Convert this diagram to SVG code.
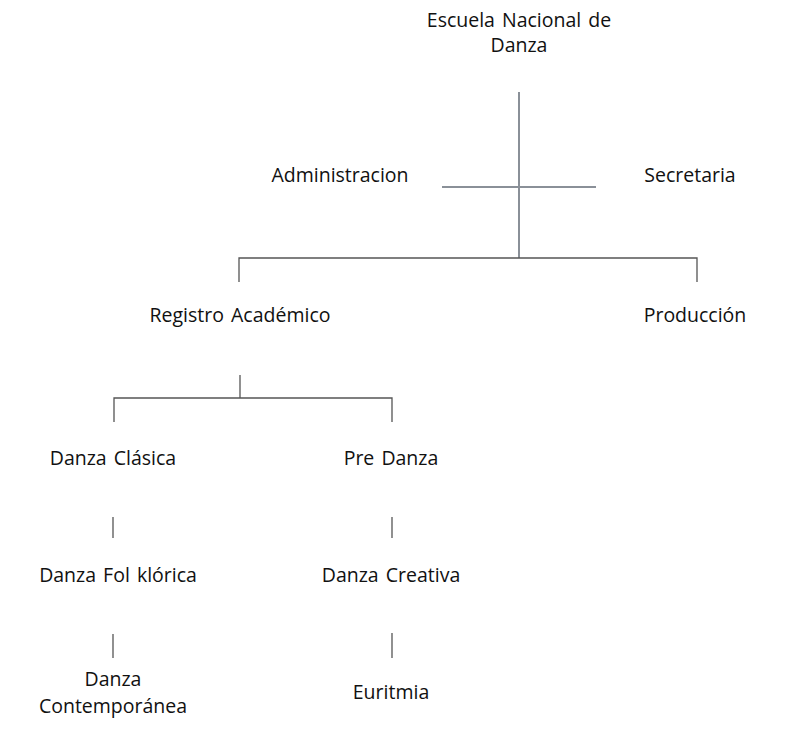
<svg xmlns="http://www.w3.org/2000/svg" width="785" height="749" viewBox="0 0 785 749">
<style>
text{font-family:"Open Sans","Noto Sans","Liberation Sans",sans-serif;font-size:19.5px;fill:#111;text-anchor:middle;word-spacing:2px}
.c{stroke:#555;stroke-width:1.3;fill:none}
.g{stroke:#8a9098;stroke-width:2;fill:none}
</style>
<rect width="785" height="749" fill="#fff"/>
<g id="connectors">
<line class="g" x1="519" y1="92" x2="519" y2="258"/>
<line class="g" x1="442" y1="187" x2="596" y2="187"/>
<path class="c" d="M239 282 V258 H697 V282"/>
<line class="c" x1="240" y1="375" x2="240" y2="398"/>
<path class="c" d="M114 422 V398 H392 V422"/>
<line class="c" x1="113" y1="517" x2="113" y2="538"/>
<line class="c" x1="392" y1="517" x2="392" y2="538"/>
<line class="c" x1="113" y1="634" x2="113" y2="658"/>
<line class="c" x1="392" y1="633" x2="392" y2="658"/>
</g>
<g id="n-escuela"><text x="519" y="27">Escuela Nacional de</text><text x="519" y="52">Danza</text></g>
<g id="n-admin"><text x="340" y="182">Administracion</text></g>
<g id="n-secretaria"><text x="690" y="182">Secretaria</text></g>
<g id="n-registro"><text x="240" y="322">Registro Académico</text></g>
<g id="n-produccion"><text x="695" y="322">Producción</text></g>
<g id="n-clasica"><text x="113" y="465">Danza Clásica</text></g>
<g id="n-predanza"><text x="391" y="465">Pre Danza</text></g>
<g id="n-folklorica"><text x="118" y="582">Danza Fol klórica</text></g>
<g id="n-creativa"><text x="391" y="582">Danza Creativa</text></g>
<g id="n-contemporanea"><text x="113" y="686">Danza</text><text x="113" y="713">Contemporánea</text></g>
<g id="n-euritmia"><text x="391" y="699">Euritmia</text></g>
</svg>
